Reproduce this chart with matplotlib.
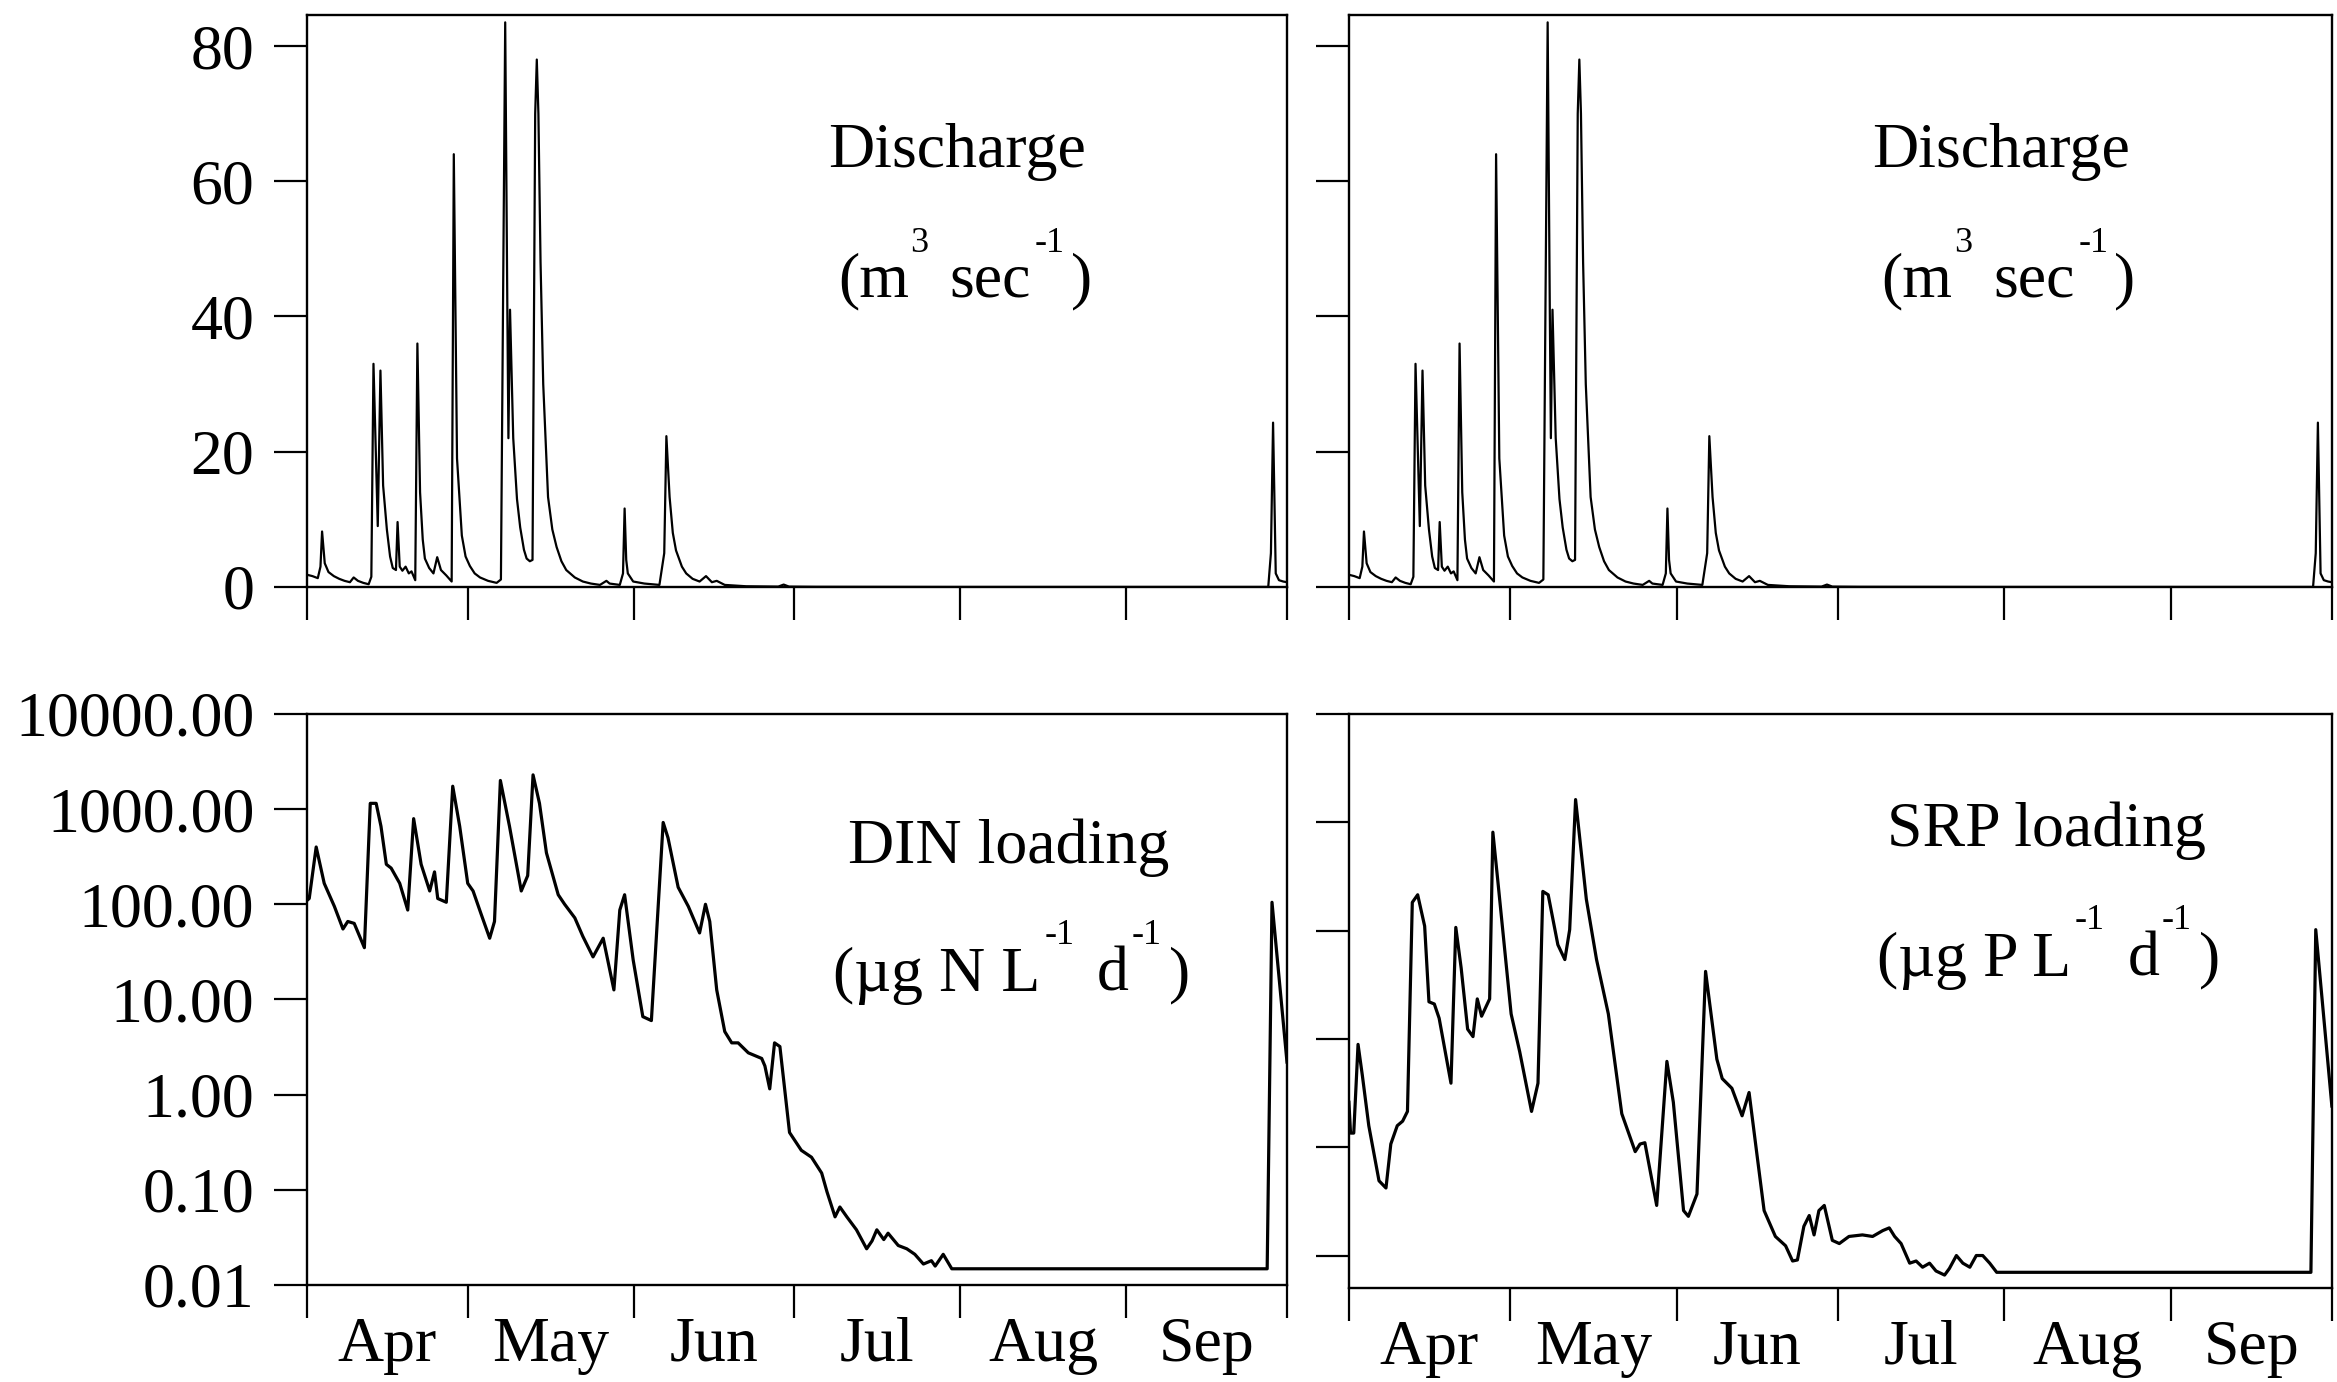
import matplotlib
matplotlib.use("Agg")
import matplotlib.pyplot as plt
from matplotlib.ticker import NullLocator, FuncFormatter

plt.rcParams['font.family'] = 'Liberation Serif'

# days counted from April 1
month_starts = [0, 30, 61, 91, 122, 153, 183]
month_mids = [15, 45.5, 76, 106.5, 137.5, 168]
month_names = ['Apr', 'May', 'Jun', 'Jul', 'Aug', 'Sep']

# river discharge (m3/s)
q_day = [0, 1, 2, 2.5, 2.8, 3.3, 4, 5, 6, 7, 8, 8.7, 9.5, 10.5, 11.5, 12.0,
         12.4, 12.9, 13.2, 13.7, 14.2, 14.9, 15.5, 16.0, 16.6, 16.9, 17.3,
         17.8, 18.4, 19.0, 19.5, 20.2, 20.6, 21.1, 21.6, 22.0, 22.8, 23.6,
         24.3, 25.0, 26.0, 27.0, 27.4, 28.0, 28.9, 29.6, 30.4, 31.3, 32.3,
         33.8, 35.4, 36.2, 37.0, 37.4, 37.6, 37.9, 38.5, 39.2, 39.8, 40.5,
         41.0, 41.6, 42.1, 42.6, 42.9, 43.2, 43.6, 44.1, 45.0, 45.8, 46.6,
         47.5, 48.4, 50.0, 51.5, 53.0, 54.7, 55.3, 55.9, 56.5, 58.4, 59.0,
         59.3, 59.6, 59.9, 60.9, 63.0, 65.8, 66.7, 67.1, 67.7, 68.3, 68.9,
         70.0, 70.8, 72.0, 73.3, 74.5, 75.6, 76.5, 78.0, 82.0, 88.0, 89.0,
         90.0, 95.0, 120, 150, 179.5, 180.0, 180.4, 180.9, 181.5, 182.3, 183]
q_val = [1.8, 1.6, 1.3, 3.0, 8.2, 3.5, 2.2, 1.6, 1.2, 0.9, 0.7, 1.4, 0.9, 0.6,
         0.4, 1.5, 33, 18, 9, 32, 15, 8.5, 4.5, 2.8, 2.5, 9.6, 3.0, 2.4, 3.0,
         2.0, 2.3, 1.0, 36, 14, 7, 4.2, 2.8, 2.0, 4.4, 2.5, 1.7, 0.8, 64, 19,
         7.6, 4.5, 3.1, 2.0, 1.4, 0.9, 0.6, 1.1, 83.5, 41, 22, 41, 22, 13, 8.8,
         5.5, 4.2, 3.8, 4.0, 70, 78, 70, 48, 30, 13.3, 8.5, 5.9, 3.8, 2.5, 1.4,
         0.8, 0.5, 0.3, 0.6, 0.9, 0.5, 0.3, 2.0, 11.6, 4.0, 2.0, 0.8, 0.5, 0.3,
         5.0, 22.3, 13.3, 8.0, 5.4, 3.0, 2.0, 1.2, 0.8, 1.6, 0.7, 0.9, 0.3,
         0.1, 0.05, 0.35, 0.05, 0.02, 0.0, 0.0, 0.0, 5.0, 24.3, 2.0, 1.0, 0.8,
         0.7]

# dissolved inorganic nitrogen loading (ug N/L/d)
din_day = [0, 0.4, 1.7, 3.2, 5.1, 6.7, 7.6, 8.8, 10.7, 11.8, 12.9, 13.8, 14.8,
           15.7, 17.3, 18.8, 19.9, 21.3, 22.9, 23.8, 24.4, 26.0, 27.2, 28.5,
           30.0, 31.0, 32.5, 34.1, 35.0, 36.1, 37.8, 40.0, 41.2, 42.2, 43.4,
           44.7, 46.9, 48.1, 50.0, 51.5, 53.4, 55.3, 57.3, 58.4, 59.3, 60.9,
           62.7, 64.3, 66.5, 67.4, 69.3, 71.2, 73.3, 74.4, 75.2, 76.5, 78.0,
           79.3, 80.5, 82.4, 84.9, 85.5, 86.4, 87.3, 88.3, 90.1, 92.3, 94.2,
           96.1, 97.1, 98.6, 99.5, 100.8, 102.6, 104.5, 105.5, 106.4, 107.7,
           108.5, 110.4, 112.0, 113.5, 115.1, 116.6, 117.3, 118.8, 120.4,
           179.3, 180.2, 183]
din_val = [110, 115, 400, 166, 95, 55, 66, 63, 35, 1150, 1150, 660, 263, 240,
           166, 87, 794, 263, 138, 219, 115, 105, 1740, 660, 166, 138, 79, 44,
           66, 2000, 660, 138, 200, 2290, 1150, 347, 126, 100, 72, 46, 28, 44,
           12.6, 87, 126, 26, 6.6, 6.0, 724, 500, 151, 95, 50, 100, 66, 12.6,
           4.6, 3.5, 3.5, 2.75, 2.4, 2.0, 1.15, 3.5, 3.2, 0.40, 0.26, 0.22,
           0.15, 0.095, 0.052, 0.066, 0.052, 0.038, 0.024, 0.029, 0.038, 0.030,
           0.035, 0.026, 0.024, 0.021, 0.0166, 0.018, 0.0158, 0.021, 0.0148,
           0.0148, 105, 2.2]

# soluble reactive phosphorus loading (ug P/L/d)
srp_day = [0, 0.3, 0.9, 1.7, 2.5, 3.7, 5.6, 6.9, 7.8, 9.0, 10.0, 10.9, 11.8,
           12.8, 14.1, 14.9, 15.9, 16.8, 19.0, 19.9, 20.9, 22.1, 23.1, 23.9,
           24.7, 26.2, 26.8, 27.7, 30.2, 31.8, 34.0, 35.2, 36.1, 37.1, 38.9,
           40.2, 41.1, 42.2, 44.2, 46.1, 48.3, 50.8, 53.3, 54.2, 55.1, 57.3,
           59.2, 60.4, 62.3, 63.2, 64.8, 66.4, 68.5, 69.5, 71.3, 73.2, 74.5,
           76.0, 77.3, 79.4, 81.3, 82.6, 83.5, 84.7, 85.7, 86.6, 87.5, 88.5,
           90.0, 91.3, 93.1, 95.6, 97.5, 99.4, 100.6, 101.6, 102.8, 104.4,
           105.6, 106.8, 108.1, 109.3, 110.9, 111.8, 113.1, 114.3, 115.6,
           116.8, 118.0, 119.3, 120.6, 179.1, 180.0, 183]
srp_val = [0.026, 0.0135, 0.0135, 0.089, 0.046, 0.0158, 0.0049, 0.0042, 0.0107,
           0.0158, 0.0174, 0.0214, 1.82, 2.14, 1.1, 0.22, 0.21, 0.155, 0.039,
           1.07, 0.45, 0.123, 0.105, 0.234, 0.162, 0.234, 8.1, 2.95, 0.17,
           0.076, 0.0214, 0.039, 2.3, 2.14, 0.74, 0.54, 1.02, 16.2, 1.95, 0.54,
           0.17, 0.0204, 0.0091, 0.0107, 0.011, 0.0029, 0.062, 0.026, 0.0026,
           0.0023, 0.0037, 0.42, 0.065, 0.043, 0.035, 0.0195, 0.032, 0.0083,
           0.0026, 0.0015, 0.00123, 0.00089, 0.00091, 0.00186, 0.00234, 0.00155,
           0.0026, 0.0029, 0.00138, 0.00129, 0.0015, 0.00155, 0.0015, 0.0017,
           0.0018, 0.0015, 0.00129, 0.00085, 0.00089, 0.00078, 0.00085, 0.00072,
           0.00066, 0.00076, 0.001, 0.00085, 0.00078, 0.001, 0.001, 0.00085,
           0.0007, 0.0007, 1.02, 0.024]

FS = 46
SUP = 26


def style_axes(ax, bottom_row):
    for sp in ax.spines.values():
        sp.set_linewidth(1.7)
    ax.set_xlim(0, 183)
    ax.set_xticks(month_starts)
    ax.set_xticklabels([])
    ax.tick_params(axis='both', which='major', direction='out', length=24,
                   width=1.6, labelsize=FS, pad=14)
    if bottom_row:
        ax.set_xticks(month_mids, minor=True)
        ax.set_xticklabels(month_names, minor=True)
        ax.tick_params(axis='x', which='minor', length=0, labelsize=FS, pad=23)


def unit_label(ax, x, y, pieces, rise):
    # chain the pieces left to right, raising the superscripts
    prev = ax.text(x, y, pieces[0][0], transform=ax.transAxes, fontsize=FS,
                   ha='left', va='baseline')
    for text, sup, gap in pieces[1:]:
        prev = ax.annotate(text, xy=(1, y), xycoords=(prev, ax.transAxes),
                           xytext=(gap, rise if sup else 0),
                           textcoords='offset points',
                           fontsize=SUP if sup else FS,
                           ha='left', va='baseline')


def discharge_panel(ax, show_labels):
    ax.plot(q_day, q_val, color='black', lw=1.6)
    ax.set_ylim(0, 84.6)
    ax.set_yticks([0, 20, 40, 60, 80])
    if not show_labels:
        ax.set_yticklabels([])
    style_axes(ax, False)
    ax.text(0.532, 0.734, 'Discharge', transform=ax.transAxes, fontsize=FS,
            ha='left', va='baseline')
    unit_label(ax, 0.542, 0.507,
               [('(m', False, 0), ('3', True, 1), ('sec', False, 15),
                ('-1', True, 3), (')', False, 4)], 32)


def log_fmt(v, pos):
    return '%.2f' % v


fig = plt.figure(figsize=(23.37, 13.82), dpi=100)

ax_tl = fig.add_axes([0.1314, 0.5753, 0.4193, 0.4139])
ax_tr = fig.add_axes([0.5772, 0.5753, 0.4206, 0.4139])
ax_bl = fig.add_axes([0.1314, 0.0702, 0.4193, 0.4132])
ax_br = fig.add_axes([0.5772, 0.0680, 0.4206, 0.4154])

discharge_panel(ax_tl, True)
discharge_panel(ax_tr, False)

# DIN loading
ax_bl.plot(din_day, din_val, color='black', lw=2.3)
ax_bl.set_yscale('log')
ax_bl.set_ylim(0.01, 10000)
ax_bl.set_yticks([0.01, 0.1, 1, 10, 100, 1000, 10000])
ax_bl.yaxis.set_major_formatter(FuncFormatter(log_fmt))
ax_bl.yaxis.set_minor_locator(NullLocator())
style_axes(ax_bl, True)
ax_bl.text(0.552, 0.739, 'DIN loading', transform=ax_bl.transAxes,
           fontsize=FS, ha='left', va='baseline')
unit_label(ax_bl, 0.537, 0.515,
           [('(\u00b5g N L', False, 0), ('-1', True, 3), ('d', False, 16),
            ('-1', True, 2), (')', False, 5)], 34)

# SRP loading
ax_br.plot(srp_day, srp_val, color='black', lw=2.3)
ax_br.set_yscale('log')
ax_br.set_ylim(10 ** -3.3, 100)
ax_br.set_yticks([0.001, 0.01, 0.1, 1, 10, 100])
ax_br.set_yticklabels([])
ax_br.yaxis.set_minor_locator(NullLocator())
style_axes(ax_br, True)
ax_br.text(0.547, 0.77, 'SRP loading', transform=ax_br.transAxes,
           fontsize=FS, ha='left', va='baseline')
unit_label(ax_br, 0.537, 0.544,
           [('(\u00b5g P L', False, 0), ('-1', True, 3), ('d', False, 16),
            ('-1', True, 2), (')', False, 5)], 34)

fig.savefig('out.png', dpi=100)
